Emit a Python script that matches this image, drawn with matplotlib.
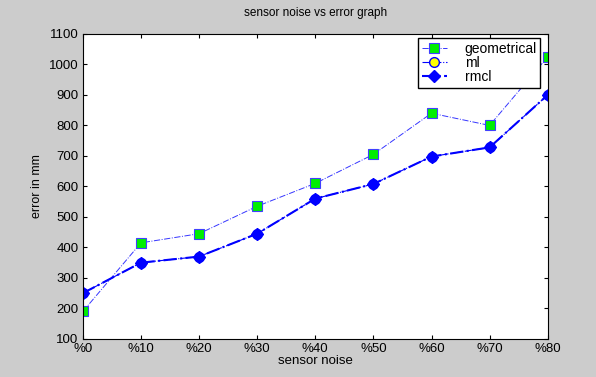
import matplotlib.pyplot as plt

plt.rc('font', family='Liberation Sans', size=8)

noise = ['%0', '%10', '%20', '%30', '%40', '%50', '%60', '%70', '%80']
geometrical = [190, 415, 445, 535, 610, 705, 840, 800, 1025]
ml = [250, 350, 370, 445, 560, 608, 698, 728, 900]
rmcl = [250, 350, 370, 445, 560, 608, 698, 728, 900]

fig = plt.figure(figsize=(5.96, 3.77), dpi=100, facecolor='#cccccc')
ax = fig.add_axes([0.139, 0.101, 0.780, 0.809])
x = range(len(noise))

ax.plot(x, geometrical, '-.', color='#3535ff', lw=0.7, marker='s', ms=6.5,
        mfc='#00ee00', mec='#4040ff', mew=0.8, label='geometrical')
ax.plot(x, ml, '-.', color='blue', lw=0.8, marker='o', ms=7,
        mfc='yellow', mec='blue', label='ml')
ax.plot(x, rmcl, '-.', color='blue', lw=1.5, marker='D', ms=6,
        mfc='blue', mec='blue', label='rmcl')

ax.set_xlim(0, 8)
ax.set_ylim(100, 1100)
ax.set_xticks(list(x))
ax.set_xticklabels(noise)
ax.set_yticks(range(100, 1101, 100))
ax.tick_params(direction='in', top=True, right=True, length=3, labelsize=9.5, pad=3)
for s in ax.spines.values():
    s.set_linewidth(0.8)

ax.set_xlabel('sensor noise', fontsize=9.5, labelpad=0)
ax.set_ylabel('error in mm', fontsize=9)
ax.set_title('sensor noise vs error graph', fontsize=8.5, pad=13)

ax.legend(loc='upper right', bbox_to_anchor=(0.99, 0.995), fancybox=False,
          framealpha=1, edgecolor='black', borderpad=0.25, labelspacing=0.02,
          handlelength=1.8, handletextpad=1.3, borderaxespad=0.2, fontsize=10)

fig.savefig('out.png', dpi=100, facecolor='#cccccc')
